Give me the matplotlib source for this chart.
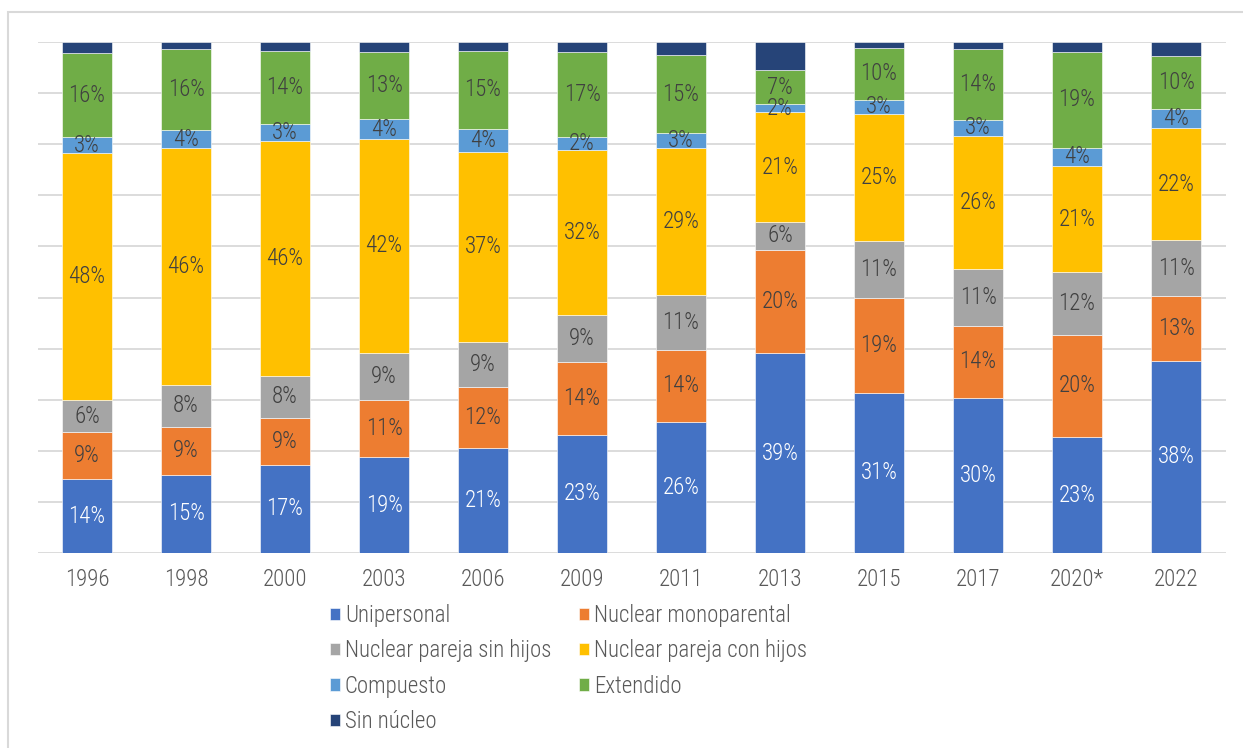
import matplotlib
matplotlib.use('Agg')
import matplotlib.pyplot as plt
import numpy as np
from matplotlib.patches import Rectangle

plt.rcParams['font.family'] = ['Roboto Condensed', 'Roboto', 'DejaVu Sans']
plt.rcParams['font.weight'] = 'light'

years = ['1996', '1998', '2000', '2003', '2006', '2009', '2011', '2013', '2015', '2017', '2020*', '2022']
series_names = ['Unipersonal', 'Nuclear monoparental', 'Nuclear pareja sin hijos',
                'Nuclear pareja con hijos', 'Compuesto', 'Extendido', 'Sin núcleo']
unipersonal = [14.4, 15.3, 17.3, 18.7, 20.6, 23.1, 25.6, 39.1, 31.3, 30.4, 22.7, 37.6]
monoparental = [9.3, 9.4, 9.2, 11.3, 12.0, 14.3, 14.2, 20.2, 18.6, 14.1, 20.1, 12.7]
sin_hijos = [6.2, 8.1, 8.2, 9.1, 8.7, 9.1, 10.6, 5.6, 11.0, 11.0, 12.2, 10.9]
con_hijos = [48.3, 46.3, 46.0, 41.9, 37.3, 32.3, 28.9, 21.4, 24.9, 26.2, 20.8, 21.9]
compuesto = [3.2, 3.6, 3.3, 3.8, 4.4, 2.4, 2.8, 1.6, 2.8, 3.0, 3.6, 3.8]
extendido = [16.4, 15.9, 14.2, 13.2, 15.4, 16.7, 15.3, 6.7, 10.2, 14.0, 18.8, 10.3]
sin_nucleo = [2.2, 1.3, 1.8, 1.95, 1.7, 1.95, 2.6, 5.5, 1.1, 1.3, 1.9, 2.8]

colors = ['#4472C4', '#ED7D31', '#A5A5A5', '#FFC000', '#5B9BD5', '#70AD47', '#264478']
label_colors = ['white', '#404040', '#404040', '#404040', '#404040', '#404040', None]

data = np.array([unipersonal, monoparental, sin_hijos, con_hijos, compuesto, extendido, sin_nucleo])
totals = data.sum(axis=0)
shares = data / totals * 100

FS = 16.5
W, H = 1243, 748
fig = plt.figure(figsize=(W / 100, H / 100), dpi=100)
ax = fig.add_axes([37.5 / W, 1 - 553 / H, (1225.5 - 37.5) / W, (553 - 42) / H])

x = np.arange(len(years))
bottom = np.zeros(len(years))
handles = []
for i, name in enumerate(series_names):
    bars = ax.bar(x, shares[i], 0.5, bottom=bottom, color=colors[i],
                  edgecolor='white', linewidth=0.4, label=name, zorder=3)
    handles.append(bars)
    if label_colors[i] is not None:
        for xi, b, h, v in zip(x, bottom, shares[i], data[i]):
            ax.text(xi, b + h / 2, f"{v:.0f}%", ha='center', va='center',
                    color=label_colors[i], fontsize=FS, zorder=4)
    bottom += shares[i]

ax.set_xlim(-0.5, len(years) - 0.5)
ax.set_ylim(0, 100)
ax.set_yticks(np.arange(0, 101, 10))
ax.set_yticklabels([])
ax.grid(axis='y', color='#d9d9d9', linewidth=1.3, zorder=0)
ax.set_axisbelow(True)
for s in ax.spines.values():
    s.set_visible(False)
ax.tick_params(axis='both', length=0)
ax.set_xticks(x)
ax.set_xticklabels(years, fontsize=FS, color='#595959')
ax.tick_params(axis='x', pad=11)

# legend in row-major order (2 columns)
order = [0, 2, 4, 6, 1, 3, 5]
leg = fig.legend([handles[k] for k in order], [series_names[k] for k in order],
                 ncol=2, loc='upper left', bbox_to_anchor=(330 / W, 1 - 604 / H),
                 frameon=False, fontsize=FS, handlelength=0.45, handleheight=0.45,
                 handletextpad=0.2, columnspacing=1.2, labelspacing=0.54,
                 borderaxespad=0, borderpad=0)
for t in leg.get_texts():
    t.set_color('#595959')

# chart-area border
fig.patches.append(Rectangle((8 / W, -0.1), 1.2, 1 - 12 / H + 0.1, transform=fig.transFigure,
                             fill=False, edgecolor='#d9d9d9', linewidth=1.5))

fig.savefig('out.png', dpi=100)
